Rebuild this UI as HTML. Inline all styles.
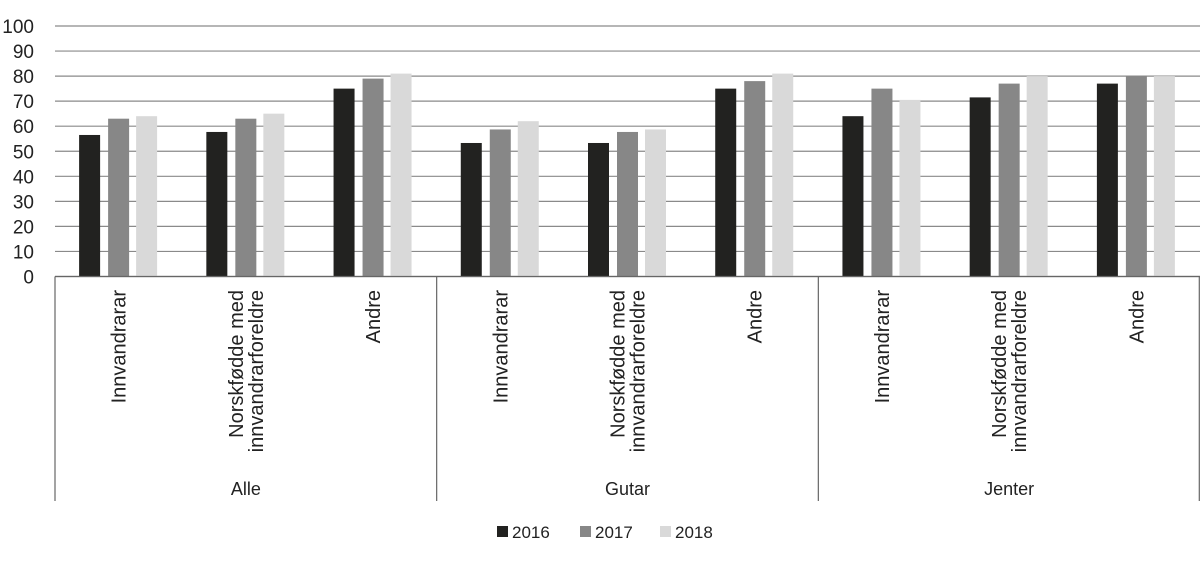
<!DOCTYPE html>
<html><head><meta charset="utf-8"><style>
body{margin:0;background:#fff;}
svg text{font-family:"Liberation Sans",sans-serif;fill:#222;}
</style></head><body>
<svg id="chart" width="1200" height="559" xmlns="http://www.w3.org/2000/svg"></svg>
<script>
const groups = ["Alle","Gutar","Jenter"];
const categories = ["Innvandrarar","Norskfødde med|innvandrarforeldre","Andre"];
const seriesNames = ["2016","2017","2018"];
const s2016 = [56.5,57.7,75, 53.3,53.3,75, 64,71.5,77];
const s2017 = [63,63,79, 58.7,57.7,78, 75,77,80];
const s2018 = [64,65,81, 62,58.7,81, 70.5,80,80];
const yTicks = [0,10,20,30,40,50,60,70,80,90,100];
const colors = ["#222220","#878787","#d9d9d9"];
const svg = document.getElementById('chart');
const NS = "http://www.w3.org/2000/svg";
const X0=55, X1=1200, Y0=276.5, Y100=26;
const n = s2016.length, cw=(X1-X0)/n;
const y = v => Y0 - (v/100)*(Y0-Y100);
const xc = i => X0 + cw*(i+0.5);
function mk(tag, attrs){const e=document.createElementNS(NS,tag);for(const k in attrs)e.setAttribute(k,attrs[k]);svg.appendChild(e);return e;}
yTicks.forEach(t=>{
  const l=mk('line',{x1:X0,x2:X1,y1:y(t),y2:y(t),stroke:'#8a8a8a','stroke-width':1.2});
  
  
  const tx=mk('text',{x:34,y:y(t)+7,'text-anchor':'end','font-size':19});
  tx.textContent=t;
  
  
});
const series=[s2016,s2017,s2018];
const offs=[-29,0,28];
series.forEach((s,si)=>{
  s.forEach((v,i)=>{
    const r=mk('rect',{x:xc(i)+offs[si]-10.5,y:y(v),width:21,height:Y0-y(v),fill:colors[si]});
    
    
  });
});
const ax=mk('line',{x1:X0,x2:X1,y1:Y0,y2:Y0,stroke:'#666','stroke-width':1.2});


for(let g=0;g<=groups.length;g++){
  const xx=Math.min(X0+g*3*cw,X1-0.7);
  const l=mk('line',{x1:xx,x2:xx,y1:Y0,y2:501,stroke:'#666','stroke-width':1.2});
  
  
}
for(let i=0;i<n;i++){
  const lines=categories[i%3].split('|');
  lines.forEach((ln,li)=>{
    const cx=xc(i)+(lines.length===2?(li===0?-10:10):0)+7;
    const t=mk('text',{x:0,y:0,'text-anchor':'end','font-size':20,transform:`translate(${cx},290) rotate(-90)`});
    t.textContent=ln;
    
    
  });
}
groups.forEach((g,gi)=>{
  const t=mk('text',{x:X0+(gi*3+1.5)*cw,y:495,'text-anchor':'middle','font-size':18});
  t.textContent=g;
  
  
});
const lx=[497,580,660];
seriesNames.forEach((nm,si)=>{
  const r=mk('rect',{x:lx[si],y:526,width:11,height:11,fill:colors[si]});
  
  
  const t=mk('text',{x:lx[si]+15,y:538,'font-size':17});
  t.textContent=nm;
  
  
});
</script>
</body></html>
